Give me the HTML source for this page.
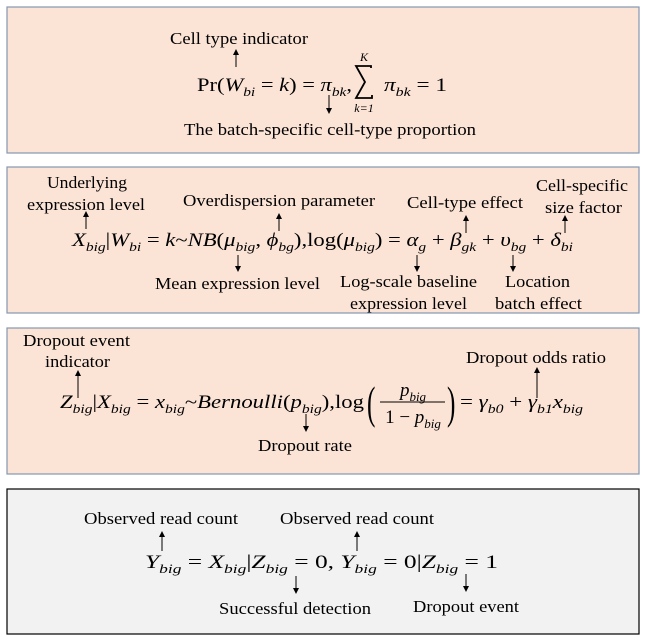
<!DOCTYPE html>
<html><head><meta charset="utf-8"><style>
html,body{margin:0;padding:0;background:#fff;}
svg{display:block;font-family:"Liberation Serif",serif;}
.lb{font-size:17px;fill:#000;}
.eq{font-size:19px;fill:#000;}
.i{font-style:italic;}
</style></head><body>
<svg width="645" height="643" viewBox="0 0 645 643">
<defs><marker id="ah" markerWidth="6" markerHeight="6" refX="3" refY="3" orient="auto"><path d="M0,0 L6,3 L0,6 z" fill="#000"/></marker></defs>

<g>
<rect x="7" y="7" width="632" height="146" fill="#fbe3d6" stroke="#8497b0" stroke-width="1.2"/>
<text class="lb" x="170" y="44" textLength="138" lengthAdjust="spacingAndGlyphs">Cell type indicator</text>
<line x1="236" y1="67" x2="236" y2="52" stroke="#000" marker-end="url(#ah)"/>
<text class="eq" x="197" y="91" textLength="155" lengthAdjust="spacingAndGlyphs">Pr(<tspan class="i">W</tspan><tspan class="i" font-size="13" dy="5">bi</tspan><tspan dy="-5"> = </tspan><tspan class="i">k</tspan>) = <tspan class="i">π</tspan><tspan class="i" font-size="13" dy="5">bk</tspan><tspan dy="-5">,</tspan></text>
<path d="M371,68 L371,66 L356,66 L365,82 L356,98 L372,98 L372,95" fill="none" stroke="#000" stroke-width="1.8"/>
<text class="i" x="364" y="61" font-size="12" text-anchor="middle">K</text>
<text class="i" x="364" y="112" font-size="12" text-anchor="middle">k=1</text>
<text class="eq" x="384" y="91" textLength="63" lengthAdjust="spacingAndGlyphs"><tspan class="i">π</tspan><tspan class="i" font-size="13" dy="5">bk</tspan><tspan dy="-5"> = 1</tspan></text>
<line x1="329" y1="95" x2="329" y2="111" stroke="#000" marker-end="url(#ah)"/>
<text class="lb" x="184" y="135" textLength="292" lengthAdjust="spacingAndGlyphs">The batch-specific cell-type proportion</text>
</g>

<g>
<rect x="7" y="167" width="632" height="146" fill="#fbe3d6" stroke="#8497b0" stroke-width="1.2"/>
<text class="lb" x="47" y="188" textLength="80" lengthAdjust="spacingAndGlyphs">Underlying</text>
<text class="lb" x="27" y="210" textLength="118" lengthAdjust="spacingAndGlyphs">expression level</text>
<text class="lb" x="183" y="206" textLength="192" lengthAdjust="spacingAndGlyphs">Overdispersion parameter</text>
<text class="lb" x="407" y="208" textLength="116" lengthAdjust="spacingAndGlyphs">Cell-type effect</text>
<text class="lb" x="536" y="191" textLength="92" lengthAdjust="spacingAndGlyphs">Cell-specific</text>
<text class="lb" x="545" y="213" textLength="77" lengthAdjust="spacingAndGlyphs">size factor</text>
<line x1="86" y1="229" x2="86" y2="214" stroke="#000" marker-end="url(#ah)"/>
<line x1="279" y1="231" x2="279" y2="216" stroke="#000" marker-end="url(#ah)"/>
<line x1="466" y1="233" x2="466" y2="218" stroke="#000" marker-end="url(#ah)"/>
<line x1="565" y1="233" x2="565" y2="218" stroke="#000" marker-end="url(#ah)"/>
<text class="eq" x="72" y="246" textLength="501" lengthAdjust="spacingAndGlyphs"><tspan class="i">X</tspan><tspan class="i" font-size="13" dy="5">big</tspan><tspan dy="-5">|</tspan><tspan class="i">W</tspan><tspan class="i" font-size="13" dy="5">bi</tspan><tspan dy="-5"> = </tspan><tspan class="i">k</tspan>~<tspan class="i">NB</tspan>(<tspan class="i">μ</tspan><tspan class="i" font-size="13" dy="5">big</tspan><tspan dy="-5">, </tspan><tspan class="i">ϕ</tspan><tspan class="i" font-size="13" dy="5">bg</tspan><tspan dy="-5">),log(</tspan><tspan class="i">μ</tspan><tspan class="i" font-size="13" dy="5">big</tspan><tspan dy="-5">) = </tspan><tspan class="i">α</tspan><tspan class="i" font-size="13" dy="5">g</tspan><tspan dy="-5"> + </tspan><tspan class="i">β</tspan><tspan class="i" font-size="13" dy="5">gk</tspan><tspan dy="-5"> + </tspan><tspan class="i">υ</tspan><tspan class="i" font-size="13" dy="5">bg</tspan><tspan dy="-5"> + </tspan><tspan class="i">δ</tspan><tspan class="i" font-size="13" dy="5">bi</tspan></text>
<line x1="238" y1="255" x2="238" y2="269" stroke="#000" marker-end="url(#ah)"/>
<line x1="417" y1="255" x2="417" y2="269" stroke="#000" marker-end="url(#ah)"/>
<line x1="513" y1="255" x2="513" y2="269" stroke="#000" marker-end="url(#ah)"/>
<text class="lb" x="155" y="289" textLength="165" lengthAdjust="spacingAndGlyphs">Mean expression level</text>
<text class="lb" x="340" y="287" textLength="137" lengthAdjust="spacingAndGlyphs">Log-scale baseline</text>
<text class="lb" x="350" y="309" textLength="117" lengthAdjust="spacingAndGlyphs">expression level</text>
<text class="lb" x="505" y="287" textLength="65" lengthAdjust="spacingAndGlyphs">Location</text>
<text class="lb" x="495" y="309" textLength="87" lengthAdjust="spacingAndGlyphs">batch effect</text>
</g>

<g>
<rect x="7" y="328" width="632" height="146" fill="#fbe3d6" stroke="#8497b0" stroke-width="1.2"/>
<text class="lb" x="23" y="346" textLength="107" lengthAdjust="spacingAndGlyphs">Dropout event</text>
<text class="lb" x="45" y="367" textLength="65" lengthAdjust="spacingAndGlyphs">indicator</text>
<text class="lb" x="466" y="363" textLength="140" lengthAdjust="spacingAndGlyphs">Dropout odds ratio</text>
<line x1="78" y1="398" x2="78" y2="373" stroke="#000" marker-end="url(#ah)"/>
<line x1="537" y1="398" x2="537" y2="370" stroke="#000" marker-end="url(#ah)"/>
<text class="eq" x="60" y="408" textLength="304" lengthAdjust="spacingAndGlyphs"><tspan class="i">Z</tspan><tspan class="i" font-size="13" dy="5">big</tspan><tspan dy="-5">|</tspan><tspan class="i">X</tspan><tspan class="i" font-size="13" dy="5">big</tspan><tspan dy="-5"> = </tspan><tspan class="i">x</tspan><tspan class="i" font-size="13" dy="5">big</tspan><tspan dy="-5">~</tspan><tspan class="i">Bernoulli</tspan>(<tspan class="i">p</tspan><tspan class="i" font-size="13" dy="5">big</tspan><tspan dy="-5">),log</tspan></text>
<text x="367" y="418" font-size="36" transform="translate(367,418) scale(0.7,1.25) translate(-367,-418)">(</text>
<text class="eq" x="413" y="396" text-anchor="middle"><tspan class="i">p</tspan><tspan class="i" font-size="13" dy="5">big</tspan></text>
<line x1="380" y1="402" x2="445" y2="402" stroke="#000" stroke-width="1"/>
<text class="eq" x="413" y="423" text-anchor="middle">1 − <tspan class="i">p</tspan><tspan class="i" font-size="13" dy="5">big</tspan></text>
<text x="447" y="418" font-size="36" transform="translate(447,418) scale(0.7,1.25) translate(-447,-418)">)</text>
<text class="eq" x="460" y="408" textLength="123" lengthAdjust="spacingAndGlyphs">= <tspan class="i">γ</tspan><tspan class="i" font-size="13" dy="5">b0</tspan><tspan dy="-5"> + </tspan><tspan class="i">γ</tspan><tspan class="i" font-size="13" dy="5">b1</tspan><tspan class="i" dy="-5">x</tspan><tspan class="i" font-size="13" dy="5">big</tspan></text>
<line x1="306" y1="414" x2="306" y2="429" stroke="#000" marker-end="url(#ah)"/>
<text class="lb" x="258" y="451" textLength="94" lengthAdjust="spacingAndGlyphs">Dropout rate</text>
</g>

<g>
<rect x="7" y="489" width="632" height="145" fill="#f2f2f2" stroke="#000" stroke-width="1.2"/>
<text class="lb" x="84" y="524" textLength="154" lengthAdjust="spacingAndGlyphs">Observed read count</text>
<text class="lb" x="280" y="524" textLength="154" lengthAdjust="spacingAndGlyphs">Observed read count</text>
<line x1="162" y1="551" x2="162" y2="534" stroke="#000" marker-end="url(#ah)"/>
<line x1="357" y1="551" x2="357" y2="534" stroke="#000" marker-end="url(#ah)"/>
<text class="eq" x="145" y="568" textLength="353" lengthAdjust="spacingAndGlyphs"><tspan class="i">Y</tspan><tspan class="i" font-size="13" dy="5">big</tspan><tspan dy="-5"> = </tspan><tspan class="i">X</tspan><tspan class="i" font-size="13" dy="5">big</tspan><tspan dy="-5">|</tspan><tspan class="i">Z</tspan><tspan class="i" font-size="13" dy="5">big</tspan><tspan dy="-5"> = 0, </tspan><tspan class="i">Y</tspan><tspan class="i" font-size="13" dy="5">big</tspan><tspan dy="-5"> = 0|</tspan><tspan class="i">Z</tspan><tspan class="i" font-size="13" dy="5">big</tspan><tspan dy="-5"> = 1</tspan></text>
<line x1="296" y1="576" x2="296" y2="591" stroke="#000" marker-end="url(#ah)"/>
<line x1="466" y1="574" x2="466" y2="589" stroke="#000" marker-end="url(#ah)"/>
<text class="lb" x="219" y="614" textLength="152" lengthAdjust="spacingAndGlyphs">Successful detection</text>
<text class="lb" x="413" y="612" textLength="106" lengthAdjust="spacingAndGlyphs">Dropout event</text>
</g>
</svg>
</body></html>
